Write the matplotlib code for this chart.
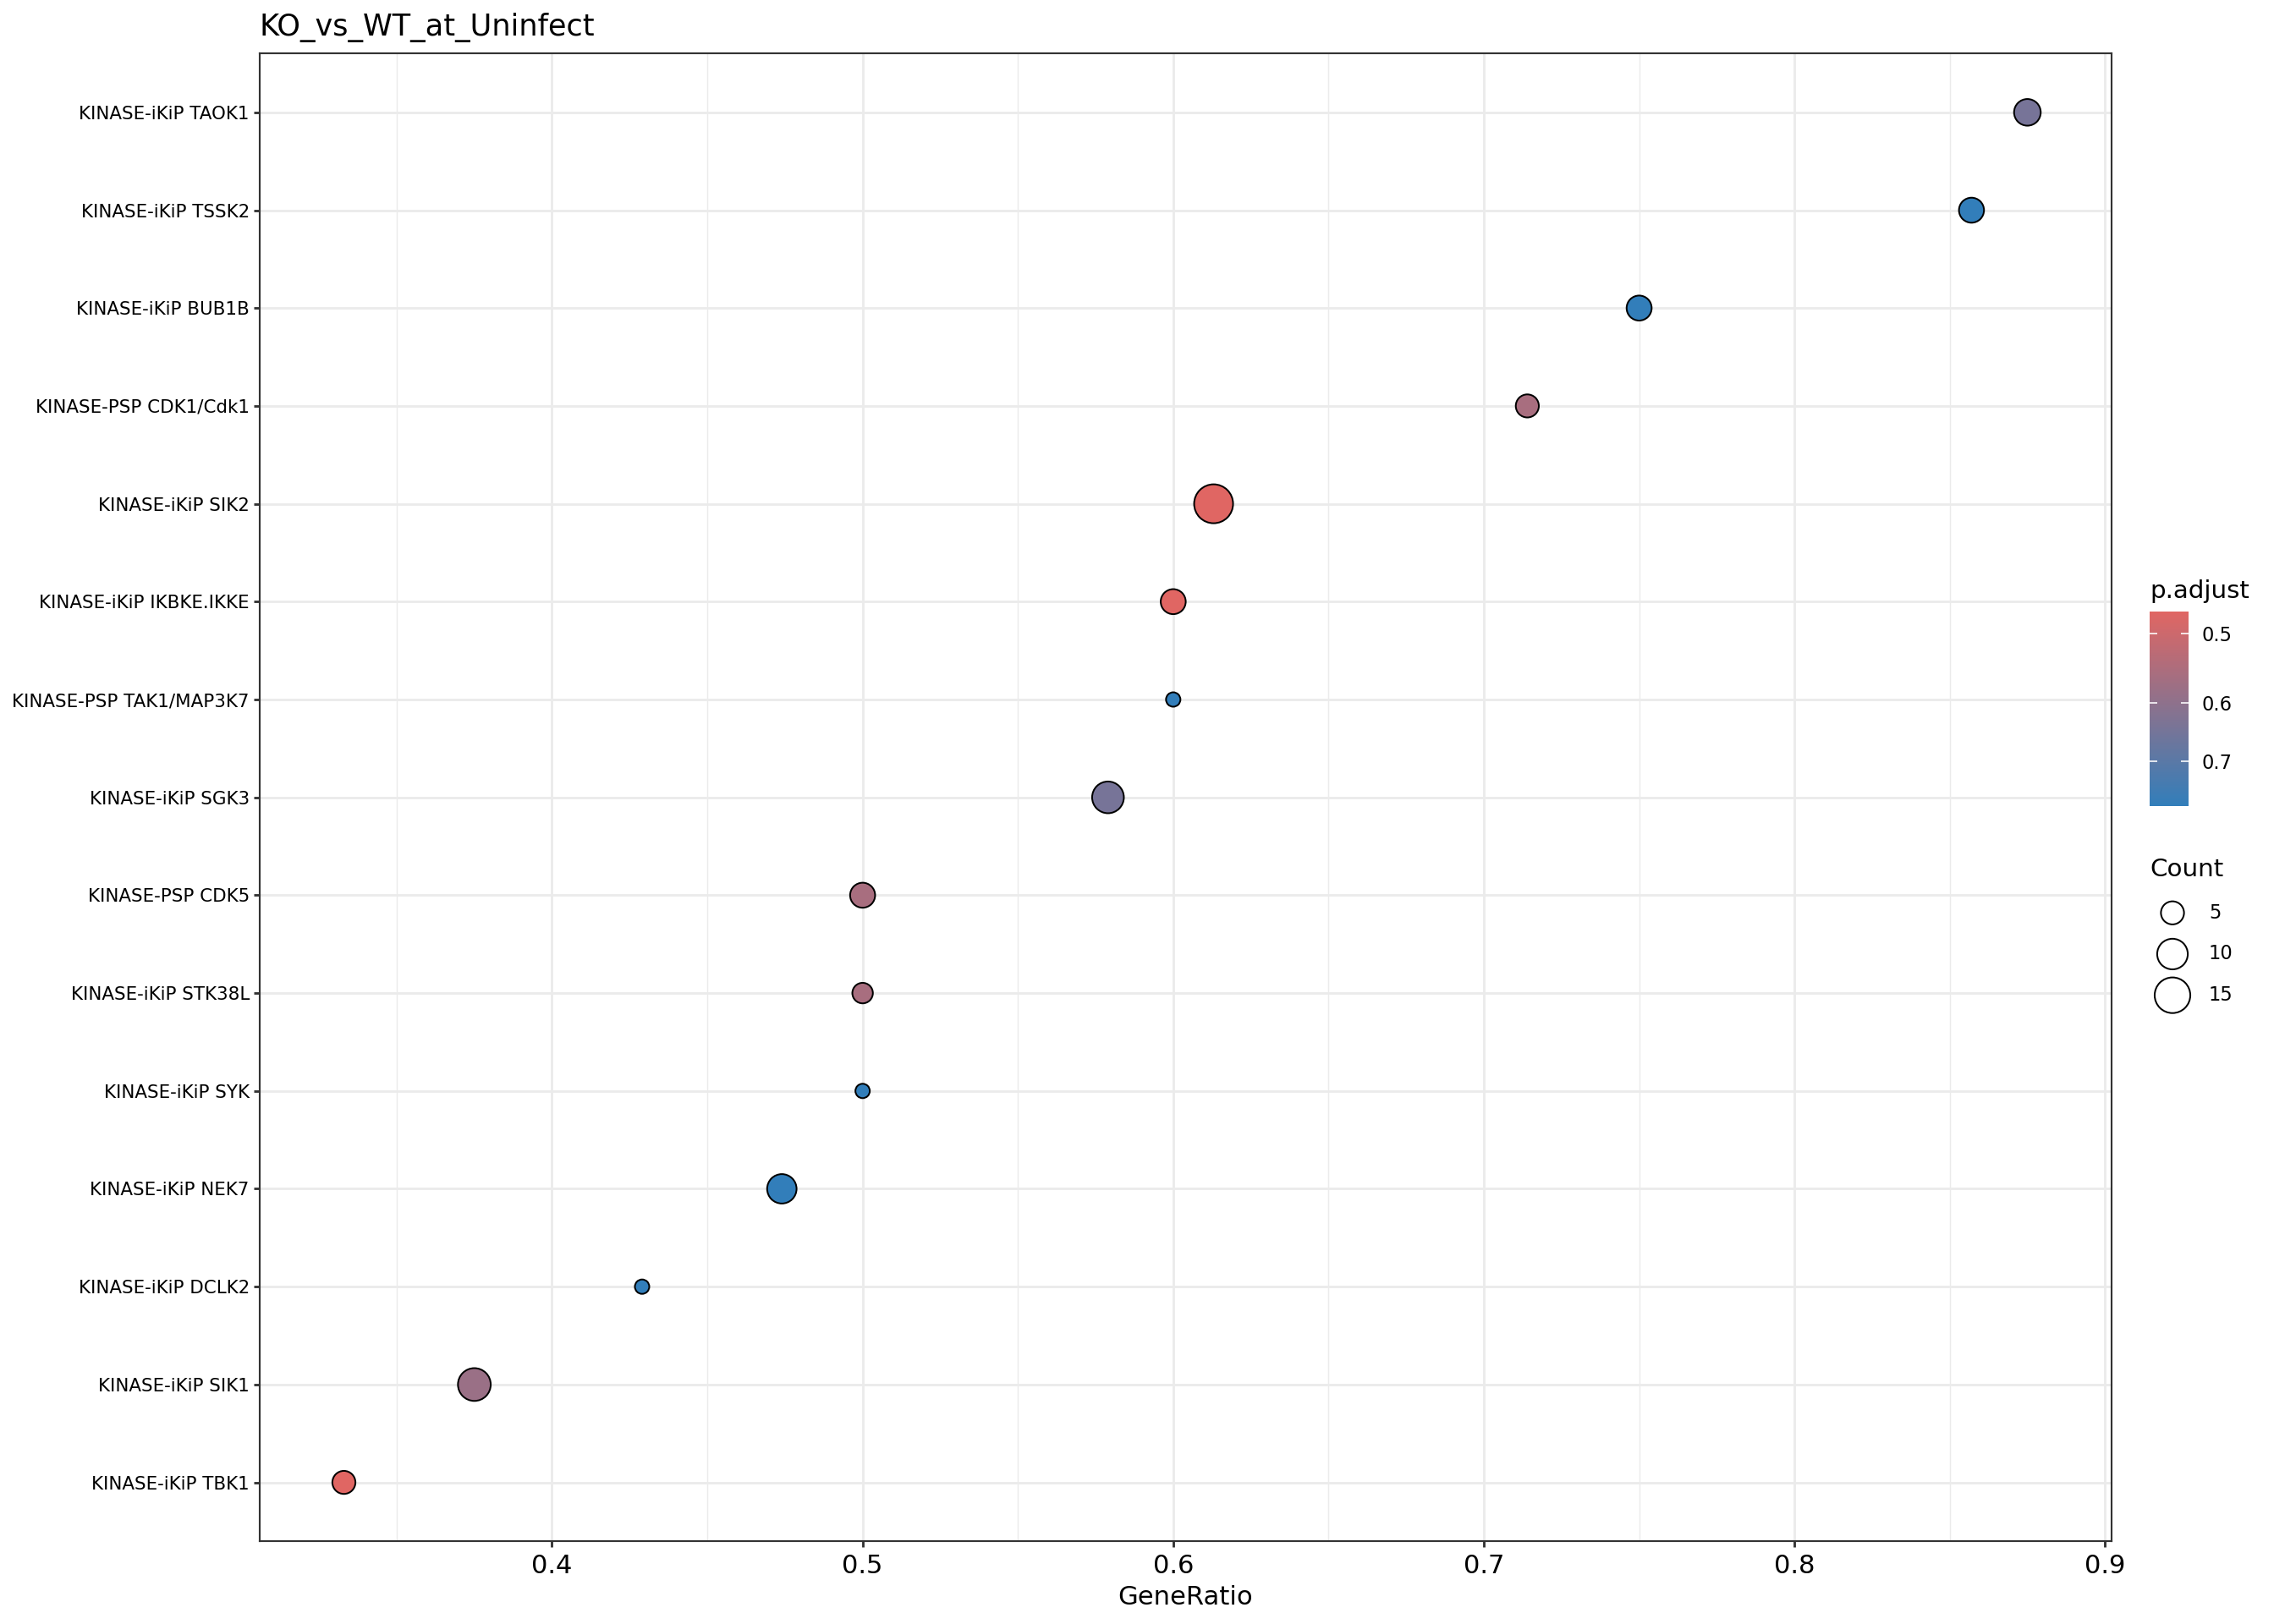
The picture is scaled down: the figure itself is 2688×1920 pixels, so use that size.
import numpy as np
import matplotlib
matplotlib.use("Agg")
import matplotlib.pyplot as plt
from matplotlib.colors import LinearSegmentedColormap, LogNorm
from matplotlib.ticker import NullLocator, FixedLocator

plt.rcParams['font.family'] = ['DejaVu Sans']

# data, listed top to bottom as shown
terms = ["KINASE-iKiP TAOK1", "KINASE-iKiP TSSK2", "KINASE-iKiP BUB1B",
         "KINASE-PSP CDK1/Cdk1", "KINASE-iKiP SIK2", "KINASE-iKiP IKBKE.IKKE",
         "KINASE-PSP TAK1/MAP3K7", "KINASE-iKiP SGK3", "KINASE-PSP CDK5",
         "KINASE-iKiP STK38L", "KINASE-iKiP SYK", "KINASE-iKiP NEK7",
         "KINASE-iKiP DCLK2", "KINASE-iKiP SIK1", "KINASE-iKiP TBK1"]
gene_ratio = [0.875, 0.857, 0.750, 0.714, 0.613, 0.600, 0.600, 0.579,
              0.500, 0.500, 0.500, 0.474, 0.429, 0.375, 0.333]
counts = [7, 6, 6, 5, 19, 6, 3, 11, 6, 4, 3, 9, 3, 12, 5]
p_adjust = [0.642, 0.787, 0.787, 0.556, 0.472, 0.472, 0.787, 0.642,
            0.556, 0.556, 0.787, 0.787, 0.787, 0.579, 0.472]
legend_counts = [5, 10, 15]
cbar_ticks = [0.5, 0.6, 0.7]

DPI = 192
W, H = 2688, 1920
PX = DPI / 72.0  # pixels per point
EDGE = 0.75


def marker_area(c):
    # ggplot-like area scale: diameter grows with sqrt of rescaled count
    cmin, cmax = min(counts), max(counts)
    d_px = 19 + 29 * np.sqrt((np.asarray(c, float) - cmin) / (cmax - cmin))
    return ((d_px - EDGE * PX) / PX) ** 2


cmap = LinearSegmentedColormap.from_list("padj", ["#E06663", "#327EBA"])
norm = LogNorm(vmin=min(p_adjust), vmax=max(p_adjust))

fig = plt.figure(figsize=(W / DPI, H / DPI), dpi=DPI)
ax = fig.add_axes([307 / W, 1 - 1822 / H, (2496 - 307) / W, (1822 - 63.4) / H])

ypos = np.arange(len(terms))[::-1]
ax.scatter(gene_ratio, ypos, s=marker_area(counts), c=p_adjust, cmap=cmap, norm=norm,
           edgecolors="black", linewidths=EDGE, zorder=3)

lo, hi = min(gene_ratio), max(gene_ratio)
pad = (hi - lo) * 0.05
ax.set_xlim(lo - pad, hi + pad)
ax.set_ylim(-0.6, len(terms) - 0.4)
ax.set_yticks(np.arange(len(terms)))
ax.set_yticklabels(terms[::-1], fontsize=8)
ax.xaxis.set_major_locator(FixedLocator([0.4, 0.5, 0.6, 0.7, 0.8, 0.9]))
ax.xaxis.set_minor_locator(FixedLocator([0.35, 0.45, 0.55, 0.65, 0.75, 0.85]))
ax.set_xticklabels(["0.4", "0.5", "0.6", "0.7", "0.8", "0.9"], fontsize=11.5)

ax.grid(True, which="major", color="#EBEBEB", linewidth=1.07, zorder=0)
ax.grid(True, which="minor", axis="x", color="#EBEBEB", linewidth=0.55, zorder=0)
ax.set_axisbelow(True)
ax.tick_params(which="major", length=2.75, width=1.07, color="#333333", labelcolor="black", pad=3)
ax.tick_params(axis="y", which="major", pad=1.8)
ax.tick_params(which="minor", length=0)
for sp in ax.spines.values():
    sp.set_color("#333333")
    sp.set_linewidth(0.8)

ax.set_xlabel("GeneRatio", fontsize=11.5, labelpad=3)
ax.set_title("KO_vs_WT_at_Uninfect", loc="left", fontsize=13.2, pad=8)

# colour bar for p.adjust
cax = fig.add_axes([2541 / W, 1 - 953 / H, 46 / W, 230 / H])
sm = plt.cm.ScalarMappable(norm=norm, cmap=cmap)
cb = fig.colorbar(sm, cax=cax)
cb.outline.set_visible(False)
cax.invert_yaxis()
cax.yaxis.set_minor_locator(NullLocator())
cax.set_yticks(cbar_ticks)
cax.set_yticklabels([str(t) for t in cbar_ticks])
cax.tick_params(axis="y", which="major", left=True, right=True, direction="in",
                length=3.3, width=0.6, color="white", labelcolor="black",
                labelsize=8.5, pad=6)
fig.text(2541 / W, 1 - 707 / H, "p.adjust", fontsize=11, ha="left", va="baseline")

# size legend for Count
fig.text(2541 / W, 1 - 1036 / H, "Count", fontsize=11, ha="left", va="baseline")
lax = fig.add_axes([2540 / W, 1 - 1201 / H, 148 / W, 146.1 / H])
lax.set_xlim(0, 148)
lax.set_ylim(2.5, -0.5)
lax.axis("off")
lax.scatter([28] * len(legend_counts), np.arange(len(legend_counts)),
            s=marker_area(legend_counts), facecolors="white", edgecolors="black",
            linewidths=EDGE, clip_on=False)
for i, c in enumerate(legend_counts):
    lax.text(71, i, str(c), fontsize=8.5, ha="left", va="center")

fig.savefig("out.png", dpi=DPI)
